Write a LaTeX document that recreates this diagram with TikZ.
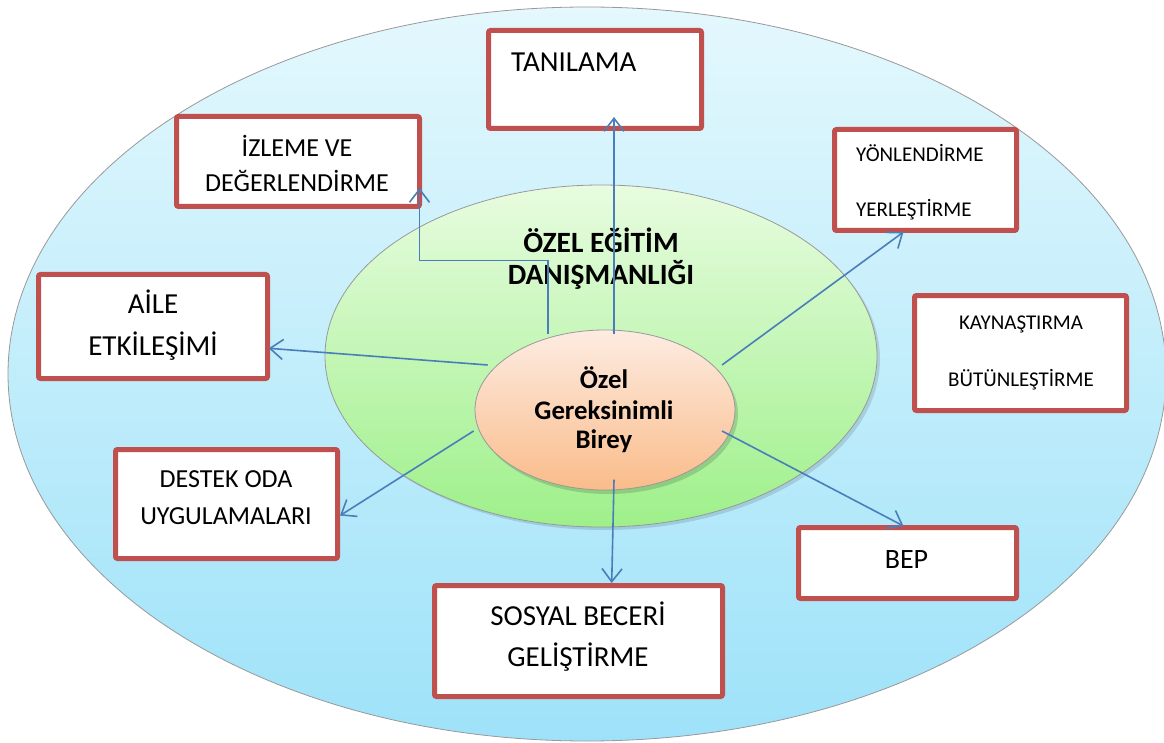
\documentclass[tikz,border=0pt]{standalone}
\usepackage{fontspec}
\setmainfont{Carlito}
\usetikzlibrary{arrows.meta}
\definecolor{boxred}{RGB}{192,80,77}
\definecolor{arrblue}{RGB}{74,126,187}
\definecolor{outtop}{RGB}{228,248,253}
\definecolor{outbot}{RGB}{158,226,249}
\definecolor{grtop}{RGB}{232,252,224}
\definecolor{grbot}{RGB}{158,240,138}
\definecolor{ortop}{RGB}{253,236,226}
\definecolor{orbot}{RGB}{250,188,138}
\tikzset{
  box/.style={draw=boxred, line width=5pt, fill=white, rounded corners=2pt, inner sep=0pt},
  arr/.style={draw=arrblue, line width=1.6pt, -{Straight Barb[length=13pt,width=20pt,line width=1.6pt]}},
  lbl/.style={anchor=base, inner sep=0pt, text=black},
  ell/.style={draw=gray!80, line width=0.8pt},
}
\newcommand{\fs}[1]{\fontsize{#1}{#1}\selectfont}
\begin{document}
\begin{tikzpicture}[x=1pt,y=-1pt]
\useasboundingbox (0,0) rectangle (1164,743);
\fill[white] (0,0) rectangle (1164,743);
% ellipses
\shadedraw[ell, top color=outtop, bottom color=outbot] (587,374) ellipse [x radius=579, y radius=367];
\fill[black, opacity=0.12] (604,359) ellipse [x radius=276, y radius=171];
\shadedraw[ell, top color=grtop, bottom color=grbot] (601,356) ellipse [x radius=276, y radius=171];
\fill[black, opacity=0.15] (608,414) ellipse [x radius=130, y radius=80];
\shadedraw[ell, top color=ortop, bottom color=orbot] (605,410) ellipse [x radius=130, y radius=80];
\node (ege) at (601,270) {};
\node (ogb) at (605,410) {};
% boxes
\node[box, minimum width=213pt, minimum height=98pt]  (tan)  at (595,79.5) {};
\node[box, minimum width=243pt, minimum height=90pt]  (izl)  at (298,161.5) {};
\node[box, minimum width=182pt, minimum height=101pt] (yon)  at (925.5,180) {};
\node[box, minimum width=212pt, minimum height=115pt] (kay)  at (1020.5,353) {};
\node[box, minimum width=229pt, minimum height=104pt] (aile) at (153,326.5) {};
\node[box, minimum width=222pt, minimum height=109pt] (dest) at (226.5,504) {};
\node[box, minimum width=218pt, minimum height=71pt]  (bep)  at (907.5,563) {};
\node[box, minimum width=288pt, minimum height=111pt] (sos)  at (578.5,641) {};
% texts
\node[lbl, anchor=base west, font=\fs{29}] (tant) at (511,72) {TANILAMA};
\node[lbl, font=\fs{26}] (izl1) at (297,156.5) {İZLEME VE};
\node[lbl, font=\fs{26}] (izl2) at (297,191.5) {DEĞERLENDİRME};
\node[lbl, anchor=base west, font=\fs{21}] (yon1) at (856,162) {YÖNLENDİRME};
\node[lbl, anchor=base west, font=\fs{21}] (yon2) at (856,217) {YERLEŞTİRME};
\node[lbl, font=\fs{21}] (kay1) at (1021,329) {KAYNAŞTIRMA};
\node[lbl, font=\fs{21}] (kay2) at (1021,386) {BÜTÜNLEŞTİRME};
\node[lbl, font=\fs{29}] (ail1) at (153,313) {AİLE};
\node[lbl, font=\fs{29}] (ail2) at (153,355) {ETKİLEŞİMİ};
\node[lbl, font=\fs{26}] (des1) at (226,487.5) {DESTEK ODA};
\node[lbl, font=\fs{26}] (des2) at (226,524.5) {UYGULAMALARI};
\node[lbl, font=\fs{28}] (bept) at (906.5,568) {BEP};
\node[lbl, font=\fs{29}] (sos1) at (578,625) {SOSYAL BECERİ};
\node[lbl, font=\fs{29}] (sos2) at (578,666) {GELİŞTİRME};
\node[lbl, font=\bfseries\fs{29.4}] (ege1) at (601,253) {ÖZEL EĞİTİM};
\node[lbl, font=\bfseries\fs{29.4}] (ege2) at (601,284) {DANIŞMANLIĞI};
\node[lbl, font=\bfseries\fs{26.8}] (ogb1) at (604,388) {Özel};
\node[lbl, font=\bfseries\fs{26.8}] (ogb2) at (604,419) {Gereksinimli};
\node[lbl, font=\bfseries\fs{26.8}] (ogb3) at (604,448) {Birey};
% arrow coordinates
\coordinate (sTan) at (614,334);  \coordinate (eTan) at (614,117);
\coordinate (sIzl) at (548,334);  \coordinate (eIzl) at (419.5,188);
\coordinate (sAil) at (487.7,365); \coordinate (eAil) at (268.7,348.3);
\coordinate (sYon) at (722,365);  \coordinate (eYon) at (903.5,232);
\coordinate (sBep) at (722,431);  \coordinate (eBep) at (903.5,526);
\coordinate (sDes) at (473.6,431); \coordinate (eDes) at (340,515.6);
\coordinate (sSos) at (614,479.6); \coordinate (eSos) at (611.7,583);
% arrows
\draw[arr] (sTan) -- (eTan);
\draw[arr] (sIzl) -- (548,260.7) -- (419.5,260.7) -- (eIzl);
\draw[arr] (sAil) -- (eAil);
\draw[arr] (sYon) -- (eYon);
\draw[arr] (sBep) -- (eBep);
\draw[arr] (sDes) -- (eDes);
\draw[arr] (sSos) -- (eSos);
\end{tikzpicture}
\end{document}
